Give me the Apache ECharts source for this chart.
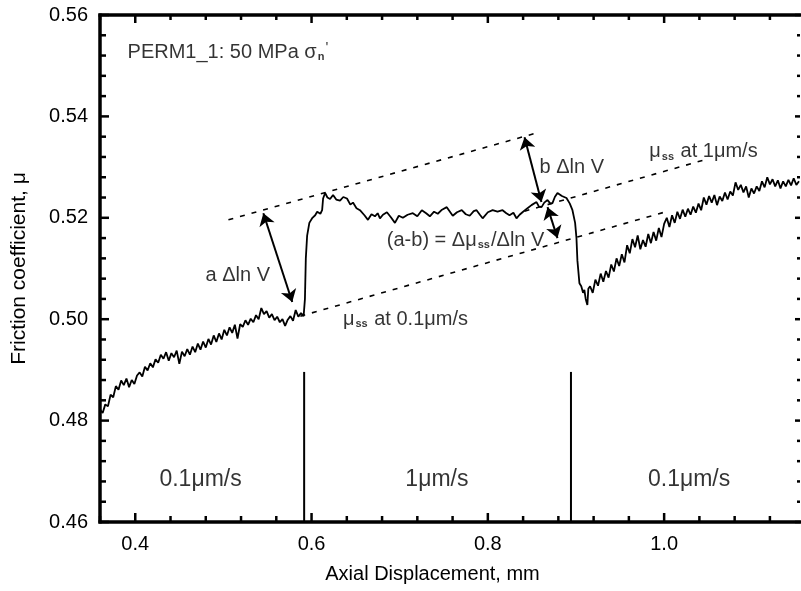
<!DOCTYPE html>
<html>
<head>
<meta charset="utf-8">
<script src="https://cdn.jsdelivr.net/npm/echarts@6/dist/echarts.min.js"></script>
<style>
  html, body { margin: 0; padding: 0; background: #fff; }
  #chart { width: 801px; height: 591px; }
</style>
</head>
<body>
<div id="chart"></div>
<script>
// Friction coefficient vs axial displacement, velocity step test PERM1_1
// Axis tick values
const xMajorTicks = [0.4, 0.6, 0.8, 1.0];
const xMinorTicks = [0.36, 0.44, 0.48, 0.52, 0.56, 0.64, 0.68, 0.72, 0.76, 0.84, 0.88, 0.92, 0.96, 1.04, 1.08, 1.12];
const yMajorTicks = [0.46, 0.48, 0.50, 0.52, 0.54, 0.56];
const yMinorTicks = [0.464, 0.468, 0.472, 0.476, 0.484, 0.488, 0.492, 0.496, 0.504, 0.508, 0.512, 0.516,
                     0.524, 0.528, 0.532, 0.536, 0.544, 0.548, 0.552, 0.556];

// First 0.1 µm/s hold
const slowSegment1 = [
  [0.360, 0.4822], [0.363, 0.4815], [0.366, 0.4832], [0.369, 0.4828], [0.372, 0.4851], [0.375, 0.4846],
  [0.378, 0.4868], [0.381, 0.4861], [0.384, 0.4879], [0.387, 0.4870], [0.390, 0.4883], [0.393, 0.4866],
  [0.396, 0.4880], [0.399, 0.4872], [0.402, 0.4889], [0.405, 0.4895], [0.408, 0.4887], [0.411, 0.4906],
  [0.414, 0.4899], [0.417, 0.4913], [0.420, 0.4905], [0.423, 0.4921], [0.426, 0.4914], [0.429, 0.4930],
  [0.432, 0.4922], [0.435, 0.4935], [0.438, 0.4918], [0.441, 0.4933], [0.444, 0.4925], [0.447, 0.4938],
  [0.450, 0.4912], [0.453, 0.4936], [0.456, 0.4927], [0.459, 0.4941], [0.462, 0.4930], [0.465, 0.4946],
  [0.468, 0.4935], [0.471, 0.4952], [0.474, 0.4940], [0.477, 0.4956], [0.480, 0.4944], [0.483, 0.4961],
  [0.486, 0.4950], [0.489, 0.4968], [0.492, 0.4955], [0.495, 0.4972], [0.498, 0.4960], [0.501, 0.4979],
  [0.504, 0.4968], [0.507, 0.4984], [0.510, 0.4973], [0.513, 0.4989], [0.516, 0.4962], [0.519, 0.4990],
  [0.522, 0.4985], [0.525, 0.4998], [0.528, 0.4989], [0.531, 0.5001], [0.534, 0.4994], [0.537, 0.5008],
  [0.540, 0.5000], [0.543, 0.5022], [0.546, 0.5010], [0.549, 0.5016], [0.552, 0.5003], [0.555, 0.5010],
  [0.558, 0.4998], [0.561, 0.5005], [0.564, 0.4994], [0.567, 0.5000], [0.570, 0.4987], [0.573, 0.4999],
  [0.576, 0.5006], [0.579, 0.4997], [0.582, 0.5018], [0.585, 0.5005], [0.588, 0.5012], [0.591, 0.5006]
];

// 1 µm/s step, then drop back
const fastSegment = [
  [0.5925, 0.5040], [0.5935, 0.5120], [0.5950, 0.5165], [0.5975, 0.5190], [0.6010, 0.5200], [0.6041, 0.5205],
  [0.6064, 0.5212], [0.6100, 0.5208], [0.6120, 0.5215], [0.6131, 0.5238], [0.6154, 0.5249], [0.6180, 0.5240],
  [0.6210, 0.5237], [0.6244, 0.5245], [0.6280, 0.5236], [0.6323, 0.5234], [0.6360, 0.5241], [0.6402, 0.5238],
  [0.6440, 0.5226], [0.6470, 0.5230], [0.6510, 0.5219], [0.6549, 0.5215], [0.6600, 0.5205], [0.6640, 0.5196],
  [0.6680, 0.5207], [0.6719, 0.5203], [0.6750, 0.5209], [0.6776, 0.5199], [0.6810, 0.5206], [0.6855, 0.5211],
  [0.6900, 0.5201], [0.6946, 0.5190], [0.6990, 0.5204], [0.7036, 0.5200], [0.7090, 0.5206], [0.7149, 0.5209],
  [0.7200, 0.5203], [0.7251, 0.5215], [0.7300, 0.5209], [0.7342, 0.5203], [0.7390, 0.5212], [0.7432, 0.5208],
  [0.7480, 0.5216], [0.7534, 0.5221], [0.7570, 0.5212], [0.7602, 0.5204], [0.7650, 0.5211], [0.7704, 0.5215],
  [0.7750, 0.5207], [0.7794, 0.5204], [0.7840, 0.5213], [0.7872, 0.5215], [0.7910, 0.5206], [0.7941, 0.5199],
  [0.8000, 0.5211], [0.8054, 0.5215], [0.8110, 0.5212], [0.8167, 0.5215], [0.8210, 0.5209], [0.8246, 0.5205],
  [0.8290, 0.5210], [0.8325, 0.5199], [0.8360, 0.5206], [0.8393, 0.5211], [0.8450, 0.5219], [0.8495, 0.5225],
  [0.8552, 0.5231], [0.8580, 0.5222], [0.8609, 0.5221], [0.8640, 0.5230], [0.8677, 0.5235], [0.8710, 0.5228],
  [0.8733, 0.5229], [0.8760, 0.5241], [0.8790, 0.5249], [0.8840, 0.5243], [0.8892, 0.5239], [0.8930, 0.5228],
  [0.8960, 0.5215], [0.8990, 0.5190], [0.9005, 0.5161], [0.9016, 0.5116], [0.9039, 0.5071], [0.9060, 0.5065],
  [0.9080, 0.5052], [0.9095, 0.5058], [0.9110, 0.5040], [0.9129, 0.5028], [0.9140, 0.5060]
];

// Second 0.1 µm/s hold
const slowSegment2 = [
  [0.916, 0.5065], [0.919, 0.5052], [0.922, 0.5078], [0.925, 0.5066], [0.928, 0.5090], [0.931, 0.5074],
  [0.934, 0.5095], [0.937, 0.5082], [0.940, 0.5108], [0.943, 0.5094], [0.946, 0.5120], [0.949, 0.5105],
  [0.952, 0.5128], [0.955, 0.5112], [0.958, 0.5146], [0.961, 0.5130], [0.964, 0.5158], [0.967, 0.5142],
  [0.970, 0.5165], [0.973, 0.5138], [0.976, 0.5156], [0.979, 0.5143], [0.982, 0.5168], [0.985, 0.5150],
  [0.988, 0.5172], [0.991, 0.5155], [0.994, 0.5180], [0.997, 0.5162], [1.000, 0.5188], [1.003, 0.5200],
  [1.006, 0.5182], [1.009, 0.5205], [1.012, 0.5190], [1.015, 0.5212], [1.018, 0.5198], [1.021, 0.5216],
  [1.024, 0.5202], [1.027, 0.5218], [1.030, 0.5206], [1.033, 0.5222], [1.036, 0.5210], [1.039, 0.5228],
  [1.042, 0.5215], [1.045, 0.5240], [1.048, 0.5226], [1.051, 0.5243], [1.054, 0.5230], [1.057, 0.5245],
  [1.060, 0.5225], [1.063, 0.5242], [1.066, 0.5233], [1.069, 0.5250], [1.072, 0.5236], [1.075, 0.5252],
  [1.078, 0.5244], [1.081, 0.5270], [1.084, 0.5255], [1.087, 0.5265], [1.090, 0.5250], [1.093, 0.5262],
  [1.096, 0.5240], [1.099, 0.5258], [1.102, 0.5248], [1.105, 0.5262], [1.108, 0.5253], [1.111, 0.5272],
  [1.114, 0.5260], [1.117, 0.5280], [1.120, 0.5266], [1.123, 0.5276], [1.126, 0.5262], [1.129, 0.5274],
  [1.132, 0.5258], [1.135, 0.5272], [1.138, 0.5262], [1.141, 0.5275], [1.144, 0.5264], [1.147, 0.5278],
  [1.150, 0.5265], [1.153, 0.5272]
];

// Velocity step positions (mm) and marker top (μ)
const stepDisplacements = [0.5916, 0.8943];
const stepMarkerTop = 0.4896;

// Guide lines: peak envelope, steady state at 1 µm/s, steady state at 0.1 µm/s
const peakEnvelope = [[0.5057, 0.5196], [0.8587, 0.5369]];
const steadyFast = [[0.8416, 0.5213], [1.0453, 0.5314]];
const steadySlow = [[0.5873, 0.5006], [1.0001, 0.5211]];

// Double-headed arrows: a Δln V, b Δln V, (a-b)
const arrowA = [[0.5453, 0.5209], [0.5781, 0.5034]];
const arrowB = [[0.8416, 0.5359], [0.8608, 0.5231]];
const arrowAB = [[0.8677, 0.5221], [0.8790, 0.5160]];

// Text annotations: [x, y, text]
const annotations = [
  [0.3913, 0.5527, 'PERM1_1: 50 MPa σ{sub|n}{sup|\'}'],
  [0.4797, 0.5087, 'a Δln V'],
  [0.8586, 0.5300, 'b Δln V'],
  [0.9831, 0.5330, 'μ{sub|ss} at 1μm/s'],
  [0.6854, 0.5156, '(a-b) = Δμ{sub|ss}/Δln V'],
  [0.6356, 0.5000, 'μ{sub|ss} at 0.1μm/s']
];
const velocityLabels = [
  [0.4741, 0.4683, '0.1μm/s'],
  [0.7422, 0.4683, '1μm/s'],
  [1.0283, 0.4683, '0.1μm/s']
];

const FONT = '"Liberation Sans", Arial, Helvetica, sans-serif';
const BLACK = '#000';
const xMin = 0.36, xMax = 1.153, yMin = 0.46, yMax = 0.56;

// Frame element kinds for the custom axis-frame series
const X_MAJOR = 0, X_MINOR = 1, Y_MAJOR = 2, Y_MINOR = 3, FRAME = 4;

const richStyles = {
  sub: { fontSize: 11, fontWeight: 'bold', fontFamily: FONT, color: BLACK, padding: [10, 1, 0, 1] },
  sup: { fontSize: 15, fontFamily: FONT, color: BLACK, padding: [0, 0, 8, 0] }
};

const chart = echarts.init(document.getElementById('chart'));

const curve = slowSegment1.concat(fastSegment, slowSegment2);

// Frame and inward ticks on all four sides, positioned through the grid's own scales
const frameData = []
  .concat(xMajorTicks.map(v => [v, yMin, X_MAJOR]))
  .concat(xMinorTicks.map(v => [v, yMin, X_MINOR]))
  .concat(yMajorTicks.map(v => [xMin, v, Y_MAJOR]))
  .concat(yMinorTicks.map(v => [xMin, v, Y_MINOR]))
  .concat([[xMin, yMin, FRAME]]);

function seg(x1, y1, x2, y2, w) {
  return { type: 'line', shape: { x1: x1, y1: y1, x2: x2, y2: y2 }, style: { stroke: BLACK, lineWidth: w, lineCap: 'butt' } };
}

function renderFrame(params, api) {
  const cs = params.coordSys;
  const left = cs.x, top = cs.y, right = cs.x + cs.width, bottom = cs.y + cs.height;
  const kind = api.value(2);
  const p = api.coord([api.value(0), api.value(1)]);
  if (kind === FRAME) {
    return {
      type: 'group',
      children: [
        seg(left, bottom + 1.5, left, top - 1.5, 3.5),
        seg(left - 1.5, top, right + 2, top, 3.5),
        seg(left - 1.5, bottom, right + 2, bottom, 3.5)
      ]
    };
  }
  if (kind === X_MAJOR || kind === X_MINOR) {
    const len = kind === X_MAJOR ? 9 : 6;
    return { type: 'group', children: [seg(p[0], bottom, p[0], bottom - len, 2.5), seg(p[0], top, p[0], top + len - 1, 2.5)] };
  }
  const lenL = kind === Y_MAJOR ? 9 : 6;
  const lenR = kind === Y_MAJOR ? 5 : 3;
  return { type: 'group', children: [seg(left, p[1], left + lenL, p[1], 2.5), seg(right + 1, p[1], right + 1 - lenR, p[1], 2.5)] };
}

const stepSeries = stepDisplacements.map(x => ({
  type: 'line', xAxisIndex: 0, yAxisIndex: 0, silent: true, showSymbol: false,
  data: [[x, yMin], [x, stepMarkerTop]],
  lineStyle: { color: BLACK, width: 2 }
}));

const dashedSeries = [peakEnvelope, steadyFast, steadySlow].map(s => ({
  type: 'line', xAxisIndex: 0, yAxisIndex: 0, silent: true, showSymbol: false,
  data: s,
  lineStyle: { color: BLACK, width: 1.6, type: [5, 7] }
}));

const arrowSeries = {
  type: 'line', xAxisIndex: 0, yAxisIndex: 0, silent: true, showSymbol: false,
  data: [],
  markLine: {
    silent: true, animation: false,
    symbol: ['arrow', 'arrow'], symbolSize: [12, 12],
    lineStyle: { color: BLACK, width: 2, type: 'solid' },
    itemStyle: { color: BLACK },
    label: { show: false },
    emphasis: { disabled: true },
    data: [arrowA, arrowB, arrowAB].map(a => [{ coord: a[0] }, { coord: a[1] }])
  }
};

const textSeries = {
  type: 'scatter', xAxisIndex: 0, yAxisIndex: 0, silent: true, symbolSize: 0,
  data: annotations.map(a => ({
    value: [a[0], a[1]],
    label: {
      show: true, position: 'right', distance: 0, formatter: a[2],
      color: BLACK, fontSize: 20, fontFamily: FONT, rich: richStyles
    }
  })).concat(velocityLabels.map(a => ({
    value: [a[0], a[1]],
    label: {
      show: true, position: 'inside', formatter: a[2],
      color: BLACK, fontSize: 23, fontFamily: FONT
    }
  })))
};

chart.setOption({
  animation: false,
  backgroundColor: '#fff',
  grid: { left: 100, right: 2, top: 15, bottom: 69, outerBoundsMode: 'none' },
  xAxis: {
    type: 'value', min: xMin, max: xMax, position: 'bottom',
    name: 'Axial Displacement, mm', nameLocation: 'middle', nameGap: 42,
    nameTextStyle: { color: BLACK, fontSize: 20, fontFamily: FONT, padding: [0, 34, 0, 0] },
    axisLine: { show: false }, axisTick: { show: false },
    axisLabel: { show: true, customValues: xMajorTicks, margin: 12, color: BLACK, fontSize: 20, fontFamily: FONT,
      formatter: v => v.toFixed(1) },
    splitLine: { show: false }
  },
  yAxis: {
    type: 'value', min: yMin, max: yMax, interval: 0.02, position: 'left',
    name: 'Friction coefficient, μ', nameLocation: 'middle', nameGap: 70,
    nameTextStyle: { color: BLACK, fontSize: 21, fontFamily: FONT },
    axisLine: { show: false }, axisTick: { show: false }, minorTick: { show: false },
    axisLabel: { margin: 12, color: BLACK, fontSize: 20, fontFamily: FONT, formatter: v => v.toFixed(2) },
    splitLine: { show: false }
  },
  series: [
    {
      type: 'line', name: 'Friction', xAxisIndex: 0, yAxisIndex: 0, silent: true,
      showSymbol: false, data: curve,
      lineStyle: { color: BLACK, width: 1.8 }
    }
  ].concat(stepSeries, dashedSeries, [arrowSeries, textSeries, {
    type: 'custom', name: 'frame', xAxisIndex: 0, yAxisIndex: 0, silent: true, clip: false, z: 5,
    renderItem: renderFrame, data: frameData
  }])
});
</script>
</body>
</html>
